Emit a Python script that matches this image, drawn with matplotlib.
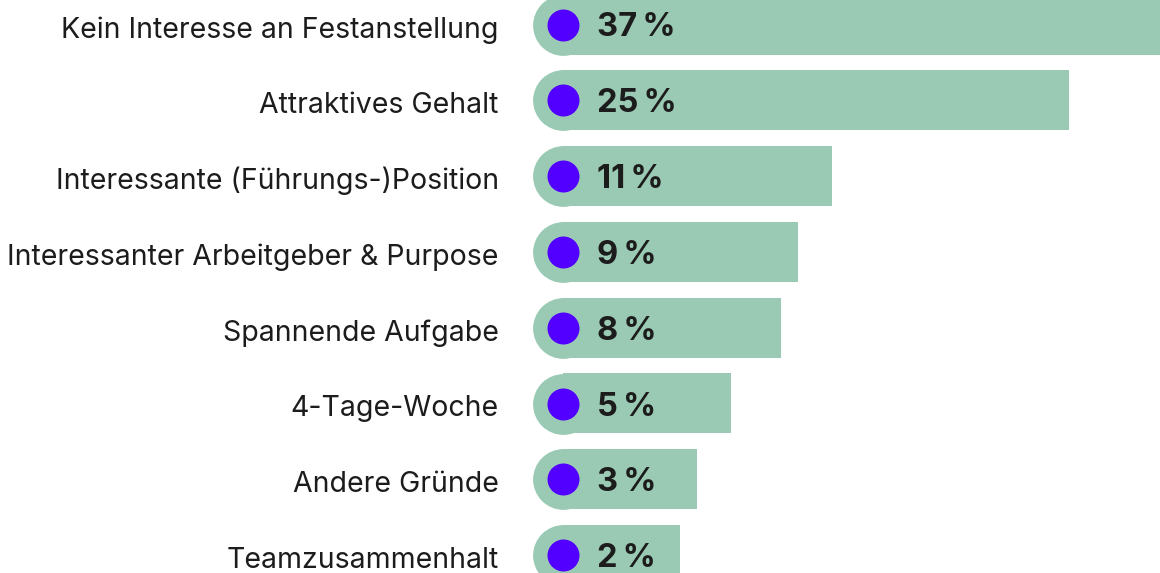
import matplotlib.pyplot as plt

# Daten
reasons = [
    'Kein Interesse an Festanstellung',
    'Attraktives Gehalt',
    'Interessante (Führungs-)Position',
    'Interessanter Arbeitgeber & Purpose',
    'Spannende Aufgabe',
    '4-Tage-Woche',
    'Andere Gründe',
    'Teamzusammenhalt',
]
shares = [37, 25, 11, 9, 8, 5, 3, 2]

# Stil
BAR_COLOR = '#9bcab4'
DOT_COLOR = '#5200ff'
TEXT_COLOR = '#1c1c1c'
FONT = ['Inter', 'DejaVu Sans']

DPI = 100
PT = 72 / DPI            # Pixel -> Punkt
W_PX, H_PX = 1160, 573

# Skala: Pixel pro Prozentpunkt, Lage des Nullpunkts, Balkenanfang
PX_PER_PCT = 16.93
ZERO_PX = 646.0
BAR_START_PX = 532.7
ROW_PX = 75.8
FIRST_ROW_PX = 24.5
BAR_H_PX = 60
CAP_R_PX = 30.4
DOT_R_PX = 16

plt.rcParams['font.family'] = FONT

fig = plt.figure(figsize=(W_PX / DPI, H_PX / DPI), dpi=DPI)
ax = fig.add_axes([0, 0, 1, 1])
ax.set_xlim(-ZERO_PX / PX_PER_PCT, (W_PX - ZERO_PX) / PX_PER_PCT)
ax.set_ylim((H_PX - FIRST_ROW_PX) / ROW_PX, -FIRST_ROW_PX / ROW_PX)
ax.axis('off')

bar_start = (BAR_START_PX - ZERO_PX) / PX_PER_PCT
cap_center = bar_start + CAP_R_PX / PX_PER_PCT

for i, (reason, share) in enumerate(zip(reasons, shares)):
    # Balken mit abgerundetem linken Ende
    ax.barh(i, share - cap_center, left=cap_center, height=BAR_H_PX / ROW_PX,
            color=BAR_COLOR, linewidth=0, zorder=1)
    ax.scatter(cap_center, i, s=(2 * CAP_R_PX * PT) ** 2, color=BAR_COLOR,
               linewidths=0, zorder=1)
    ax.scatter(cap_center, i, s=(2 * DOT_R_PX * PT) ** 2, color=DOT_COLOR,
               linewidths=0, zorder=2)

    ax.annotate(reason, (bar_start, i), xytext=(-34 * PT, -13 * PT),
                textcoords='offset points', ha='right', va='baseline',
                fontsize=20.5, color=TEXT_COLOR)
    ax.annotate(f'{share}\u2009%', (bar_start, i), xytext=(64 * PT, -12 * PT),
                textcoords='offset points', ha='left', va='baseline',
                fontsize=23.5, fontweight='bold', color=TEXT_COLOR, zorder=3)

fig.savefig('out.png', dpi=DPI)
